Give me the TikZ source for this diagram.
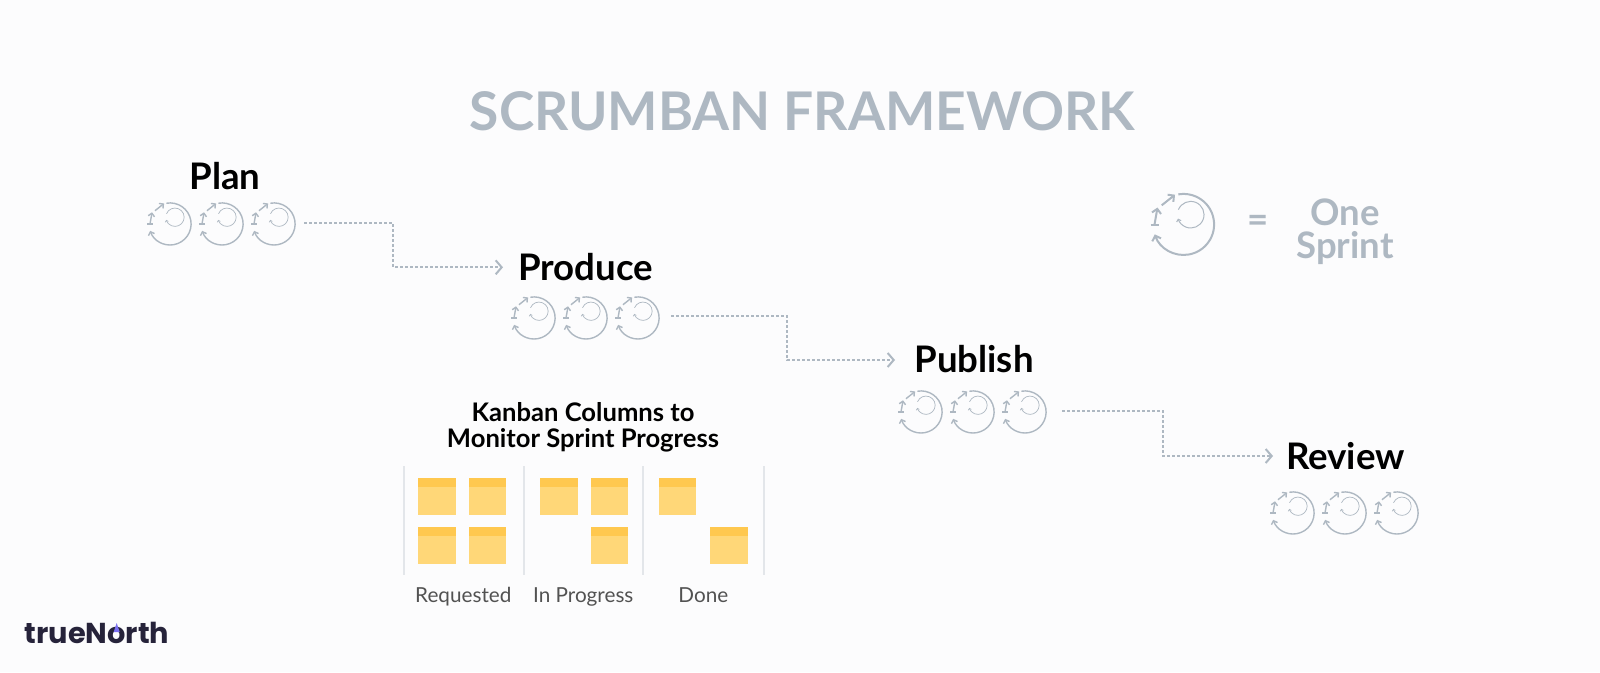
\documentclass[tikz,border=0pt]{standalone}
\usepackage{fontspec}
\setmainfont{Lato}
\newfontfamily\logofont{Poppins}
\usetikzlibrary{arrows.meta}
\definecolor{paper}{HTML}{FCFCFD}
\definecolor{slate}{HTML}{AEB8C2}
\definecolor{iconline}{HTML}{AEB8C2}
\definecolor{sticky}{HTML}{FFD778}
\definecolor{stickytop}{HTML}{FFC84F}
\definecolor{rulegrey}{HTML}{E3E6EA}
\definecolor{logoink}{HTML}{26233A}
\definecolor{needleblue}{HTML}{7A6FF0}
\tikzset{
  headline/.style={inner sep=0pt,slate,font=\fontsize{53.3}{54}\selectfont\bfseries},
  phase/.style={inner sep=0pt,black,font=\fontsize{36.6}{37}\selectfont\bfseries},
  legend/.style={inner sep=0pt,slate,align=center,font=\fontsize{36.5}{33}\selectfont\bfseries},
  boardtitle/.style={inner sep=0pt,black,align=center,font=\fontsize{25.6}{26}\selectfont\bfseries},
  column/.style={inner sep=0pt,anchor=base,black!68,font=\fontsize{20.7}{20.7}\selectfont},
  flow/.style={iconline,line width=2pt,dash pattern=on 2.6pt off 2.4pt,-{Straight Barb[length=6pt,width=14pt]}},
  barb/.style={-{Straight Barb[length=0pt 2.2 0,width=0pt 4.6 0]}},
  pics/sprint/.style={code={
    \draw[iconline,line width=#1,barb] (-5.2,-30.1) arc[start angle=-100,end angle=161,radius=30.5];
    \draw[iconline,line width=#1,barb] (-29,0)--(-26,-17);
    \draw[iconline,line width=#1] (-33,0)--(-25,0);
    \draw[iconline,line width=#1,barb] (-21.8,-19.2)--(-8.5,-29.8);
    \draw[iconline,line width=0.5*#1,barb] (-5.1,-14.8) arc[start angle=-158,end angle=163,radius=13.3];
  }}
}
\begin{document}
\begin{tikzpicture}[x=1pt,y=-1pt]
\fill[paper] (0,0) rectangle (1600,672);
\useasboundingbox (0,0) rectangle (1600,672);
\node[headline] (title) at (802.5,111) {SCRUMBAN FRAMEWORK};
% phases
\node[phase] (plan) at (225,176) {Plan};
\node[phase] (produce) at (585.5,267) {Produce};
\node[phase] (publish) at (974,359) {Publish};
\node[phase] (review) at (1345.5,456.5) {Review};
% sprint icons
\foreach \x in {170,222,274} \pic[scale=0.69] at (\x,224) {sprint=1.4};
\foreach \x in {534,586,638} \pic[scale=0.69] at (\x,318) {sprint=1.4};
\foreach \x in {921,973,1025} \pic[scale=0.69] at (\x,412) {sprint=1.4};
\foreach \x in {1293,1345,1397} \pic[scale=0.69] at (\x,513) {sprint=1.4};
% connectors
\coordinate (planout) at (304,223.3);
\coordinate (producein) at (503,267.3);
\coordinate (produceout) at (671,316);
\coordinate (publishin) at (895,360);
\coordinate (publishout) at (1062,411);
\coordinate (reviewin) at (1273,456);
\draw[flow] (planout)--++(89,0)|-(producein);
\draw[flow] (produceout)--++(116,0)|-(publishin);
\draw[flow] (publishout)--++(101,0)|-(reviewin);
% legend
\pic at (1183.5,224.5) {sprint=2};
\node[legend] (equals) at (1257.7,224) {=};
\node[legend] (onesprint) at (1345,232) {One\\Sprint};
% board
\node[boardtitle] (board) at (583,427) {Kanban Columns to\\Monitor Sprint Progress};
\foreach \x in {403.7,523.7,643.3,763.7} \draw[rulegrey,line width=2pt] (\x,466)--(\x,575.3);
\foreach \x/\y in {418.3/478.3,469/478.3,418.3/527.3,469/527.3,540.3/478.3,591/478.3,591/527.3,659/478.3,710.3/527.3} {
  \fill[sticky] (\x,\y) rectangle ++(37.3,37);
  \fill[stickytop] (\x,\y) rectangle ++(37.3,8.3);
}
\node[column] (requested) at (463.3,602) {Requested};
\node[column] (inprogress) at (583.3,602) {In Progress};
\node[column] (done) at (703.3,602) {Done};
% logo
\node[inner sep=0pt,logoink,font=\fontsize{28.8}{29}\selectfont\logofont\bfseries] (logo) at (97,633) {trueNorth};
\coordinate (needle) at (116.7,623);
\fill[needleblue] (needle)--++(3,9)--++(-6,0)--cycle;
\end{tikzpicture}
\end{document}
